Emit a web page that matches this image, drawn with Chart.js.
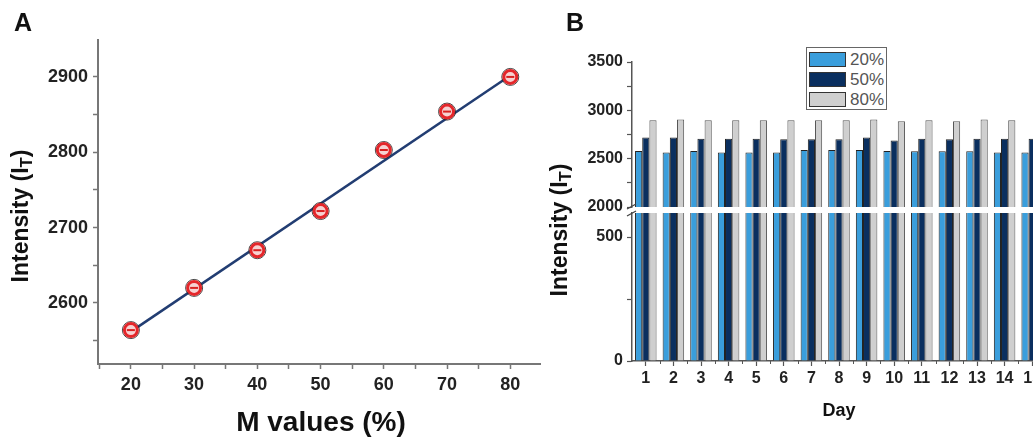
<!DOCTYPE html>
<html>
<head>
<meta charset="utf-8">
<script src="https://cdn.jsdelivr.net/npm/chart.js@4/dist/chart.umd.min.js"></script>
<style>
  html, body { margin:0; padding:0; background:#fff; }
  body { width:1033px; height:439px; overflow:hidden; position:relative; font-family:"Liberation Sans", Arial, sans-serif; }
  .box { position:absolute; top:0; }
  .lbl { position:absolute; font-weight:bold; color:#111; white-space:nowrap; }
  .rot { transform:translate(-50%,-50%) rotate(-90deg); }
  .ctr { transform:translate(-50%,-50%); }
  sub { font-size:72%; vertical-align:-0.25em; }
  #legendB { position:absolute; left:806px; top:47px; width:81px; height:63px; border:1px solid #666; background:#fff; box-sizing:border-box; padding:1px 2px; }
  .lrow { display:flex; align-items:center; height:20px; }
  .sw { width:38px; height:15px; border:1px solid #333; box-sizing:border-box; margin-right:4px; }
  .lt { font-size:17px; color:#555; line-height:17px; }
</style>
</head>
<body>
<div class="box" style="left:0;width:560px;height:439px"><canvas id="cA" width="560" height="439"></canvas></div>
<div class="box" style="left:540px;width:520px;height:439px"><canvas id="cB1" width="520" height="439"></canvas></div>
<div class="box" style="left:540px;width:520px;height:439px"><canvas id="cB2" width="520" height="439"></canvas></div>

<div class="lbl" style="left:14px;top:8px;font-size:25px">A</div>
<div class="lbl" style="left:566px;top:8px;font-size:25px">B</div>
<div class="lbl rot" style="left:22px;top:216px;font-size:23px">Intensity (I<sub>T</sub>)</div>
<div class="lbl ctr" style="left:321px;top:422px;font-size:28px">M values (%)</div>
<div class="lbl rot" style="left:561px;top:230px;font-size:23px">Intensity (I<sub>T</sub>)</div>
<div class="lbl ctr" style="left:839px;top:410px;font-size:18px">Day</div>
<div id="legendB"></div>

<script>
// ---------- Panel A data ----------
const mValues = [20, 30, 40, 50, 60, 70, 80];
const intensityA = [2564, 2620, 2670, 2722, 2803, 2854, 2900];
const fitX = [20, 80];
const fitY = [2562, 2902];

// ---------- Panel B data ----------
const days = ['1','2','3','4','5','6','7','8','9','10','11','12','13','14','15'];
const seriesNames = ['20%', '50%', '80%'];
const series20 = [2580, 2565, 2580, 2565, 2565, 2565, 2590, 2590, 2590, 2580, 2578, 2578, 2578, 2565, 2565];
const series50 = [2720, 2720, 2707, 2707, 2707, 2700, 2700, 2700, 2720, 2688, 2707, 2700, 2707, 2707, 2707];
const series80 = [2898, 2905, 2898, 2898, 2898, 2898, 2898, 2898, 2905, 2888, 2898, 2888, 2905, 2898, 2898];
const seriesColors = ['#3a9edc', '#0a2f5f', '#cfcfcf'];

const FONT = '"Liberation Sans", Arial, sans-serif';
const AX = '#777';

// legend built from series arrays
const lg = document.getElementById('legendB');
seriesNames.forEach((n, i) => {
  const r = document.createElement('div'); r.className = 'lrow';
  const s = document.createElement('div'); s.className = 'sw'; s.style.background = seriesColors[i];
  const t = document.createElement('span'); t.className = 'lt'; t.textContent = n;
  r.appendChild(s); r.appendChild(t); lg.appendChild(r);
});

const minorCat = {
  id: 'minorCat',
  afterDraw(chart, args, opts) {
    if (!opts || !opts.enabled) return;
    const sc = chart.scales.x, ctx = chart.ctx;
    ctx.save(); ctx.strokeStyle = opts.color; ctx.lineWidth = 1;
    for (let i = 0; i < sc.ticks.length - 1; i++) {
      const xp = Math.round((sc.getPixelForTick(i) + sc.getPixelForTick(i + 1)) / 2) + 0.5;
      ctx.beginPath(); ctx.moveTo(xp, sc.top); ctx.lineTo(xp, sc.top + opts.length); ctx.stroke();
    }
    ctx.restore();
  }
};
const breakMarks = {
  id: 'breakMarks',
  afterDraw(chart, args, opts) {
    if (!opts || !opts.enabled) return;
    const a = chart.chartArea, ctx = chart.ctx, g = opts.gap;
    ctx.save(); ctx.strokeStyle = opts.color; ctx.lineWidth = 1.3;
    ctx.beginPath(); ctx.moveTo(a.left - 5, a.top + 3); ctx.lineTo(a.left + 4, a.top - 2); ctx.stroke();
    ctx.beginPath(); ctx.moveTo(a.left - 5, a.top - g + 2); ctx.lineTo(a.left + 4, a.top - g - 3); ctx.stroke();
    ctx.restore();
  }
};

Chart.defaults.font.family = FONT;
Chart.defaults.animation = false;

// ---------- Panel A chart ----------
new Chart(document.getElementById('cA'), {
  type: 'scatter',
  data: {
    datasets: [
      { type: 'line', label: 'fit', data: fitX.map((x, i) => ({x, y: fitY[i]})), borderColor: '#223d72', borderWidth: 2.5, pointRadius: 0, order: 3 },
      { label: 'ring', data: mValues.map((x, i) => ({x, y: intensityA[i]})), pointRadius: 8.5, pointBorderWidth: 1, pointBorderColor: 'rgba(40,40,40,0.85)', pointBackgroundColor: 'rgba(0,0,0,0)', order: 2 },
      { label: 'pts', data: mValues.map((x, i) => ({x, y: intensityA[i]})), pointRadius: 6.5, pointBorderWidth: 3, pointBorderColor: '#e4262a', pointBackgroundColor: '#f6d2d2', order: 1 },
      { label: 'bar', data: mValues.map((x, i) => ({x, y: intensityA[i]})), pointStyle: 'line', pointRadius: 4, pointBorderWidth: 2, pointBorderColor: '#d82020', order: 0 }
    ]
  },
  options: {
    responsive: false,
    layout: { padding: { top: 40, right: 20, left: 0, bottom: 0 } },
    plugins: { legend: { display: false }, tooltip: { enabled: false } },
    scales: {
      x: {
        type: 'linear', min: 14.8, max: 84.7,
        afterFit(s) { s.height = 75; },
        border: { display: true, color: AX, width: 2 },
        grid: { display: true, drawOnChartArea: false, drawTicks: true, tickLength: 5, tickColor: AX, tickWidth: 1.5 },
        ticks: { stepSize: 5, includeBounds: false, autoSkip: false, maxRotation: 0, padding: 5, color: '#222', font: { size: 18, weight: 'bold' },
          callback: v => (Math.round(v) % 10 === 0 ? String(Math.round(v)) : '') }
      },
      y: {
        type: 'linear', min: 2519, max: 2949,
        afterFit(s) { s.width = 98; },
        border: { display: true, color: AX, width: 2 },
        grid: { display: true, drawOnChartArea: false, drawTicks: true, tickLength: 5, tickColor: AX, tickWidth: 1.5 },
        ticks: { stepSize: 50, includeBounds: false, autoSkip: false, padding: 5, color: '#222', font: { size: 18, weight: 'bold' },
          callback: v => (Math.round(v) % 100 === 0 ? String(Math.round(v)) : '') }
      }
    }
  }
});

// ---------- Panel B charts (broken axis: upper & lower) ----------
function barDatasets() {
  return [series20, series50, series80].map((d, i) => ({
    label: seriesNames[i], data: d, backgroundColor: seriesColors[i],
    borderColor: i === 2 ? '#555' : '#222', borderWidth: 1, borderSkipped: 'start',
    categoryPercentage: 0.78, barPercentage: 1.0
  }));
}
const BX = '#555';
new Chart(document.getElementById('cB1'), {
  type: 'bar',
  data: { labels: days, datasets: barDatasets() },
  options: {
    responsive: false,
    layout: { padding: { top: 62, right: 14, left: 0, bottom: 232 } },
    plugins: { legend: { display: false }, tooltip: { enabled: false } },
    scales: {
      x: { display: false, offset: true },
      y: {
        min: 2000, max: 3500,
        afterFit(s) { s.width = 92; },
        border: { display: true, color: BX, width: 1.5 },
        grid: { display: true, drawOnChartArea: false, drawTicks: true, tickLength: 5, tickColor: BX, tickWidth: 1.2 },
        ticks: { stepSize: 250, includeBounds: false, autoSkip: false, padding: 4, color: '#222', font: { size: 16, weight: 'bold' },
          callback: v => (Math.round(v) % 500 === 0 ? String(Math.round(v)) : '') }
      }
    }
  }
});
new Chart(document.getElementById('cB2'), {
  type: 'bar',
  data: { labels: days, datasets: barDatasets() },
  plugins: [minorCat, breakMarks],
  options: {
    responsive: false,
    layout: { padding: { top: 213, right: 14, left: 0, bottom: 0 } },
    plugins: { legend: { display: false }, tooltip: { enabled: false },
      minorCat: { enabled: true, color: BX, length: 3 },
      breakMarks: { enabled: true, color: '#444', gap: 6 } },
    scales: {
      x: {
        offset: true,
        afterFit(s) { s.height = 78; },
        border: { display: true, color: BX, width: 1.5 },
        grid: { display: true, offset: false, drawOnChartArea: false, drawTicks: true, tickLength: 5, tickColor: BX, tickWidth: 1.2 },
        ticks: { autoSkip: false, maxRotation: 0, padding: 3, color: '#222', font: { size: 16, weight: 'bold' } }
      },
      y: {
        min: 0, max: 597,
        afterFit(s) { s.width = 92; },
        border: { display: true, color: BX, width: 1.5 },
        grid: { display: true, drawOnChartArea: false, drawTicks: true, tickLength: 5, tickColor: BX, tickWidth: 1.2 },
        ticks: { stepSize: 250, includeBounds: false, autoSkip: false, padding: 4, color: '#222', font: { size: 16, weight: 'bold' },
          callback: v => (Math.round(v) % 500 === 0 ? String(Math.round(v)) : '') }
      }
    }
  }
});
</script>
</body>
</html>
